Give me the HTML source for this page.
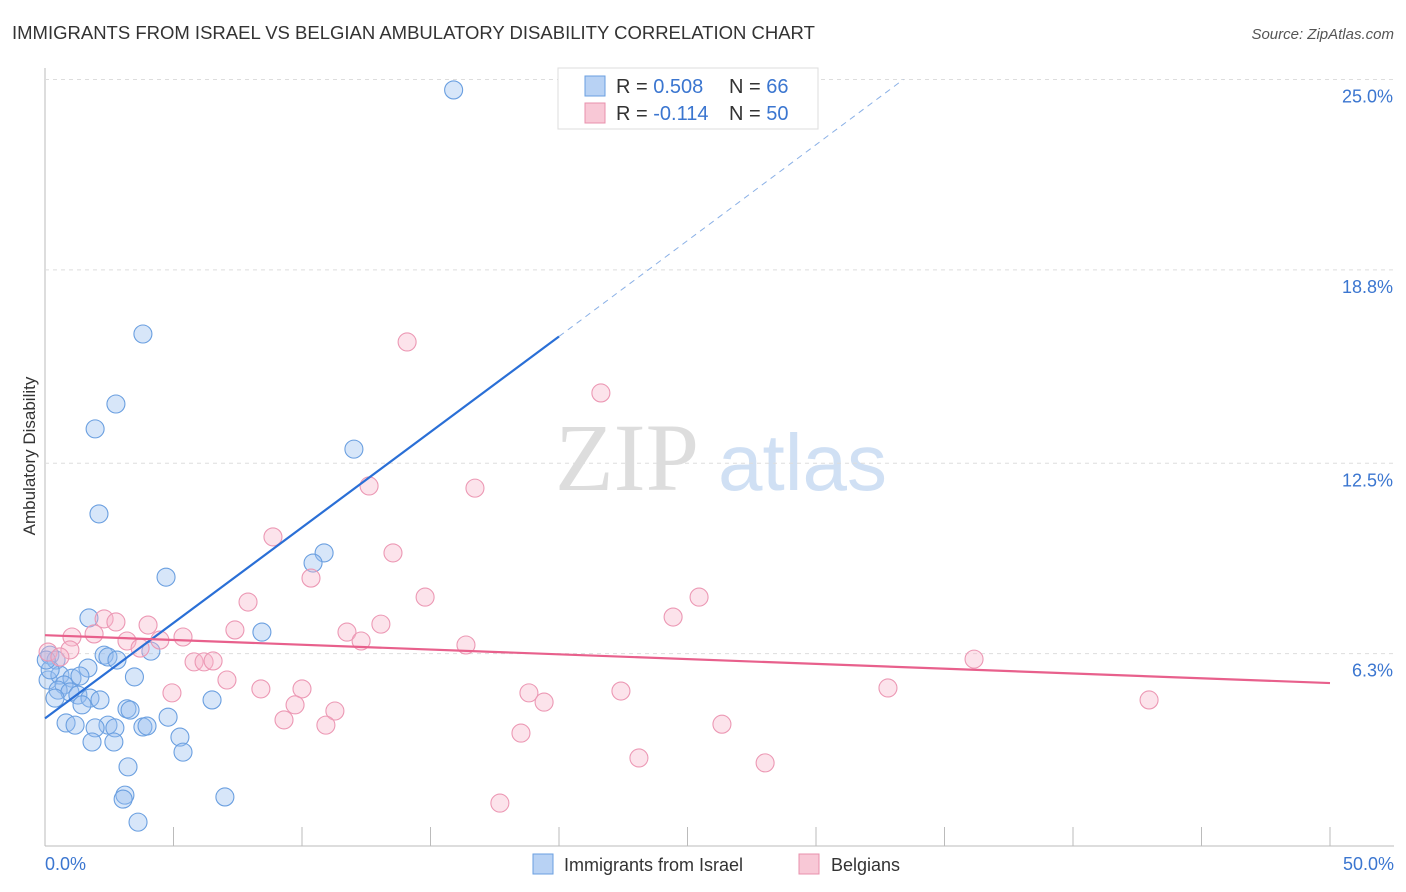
<!DOCTYPE html>
<html><head><meta charset="utf-8"><style>
body{margin:0;background:#fff;font-family:"Liberation Sans",sans-serif}
svg{display:block}
</style></head><body>
<svg width="1406" height="892" id="c">
<text x="12" y="39" font-size="18.5" fill="#333">IMMIGRANTS FROM ISRAEL VS BELGIAN AMBULATORY DISABILITY CORRELATION CHART</text>
<text x="1394" y="39" font-size="15" fill="#555" font-style="italic" text-anchor="end">Source: ZipAtlas.com</text>
<text x="35" y="456" font-size="17" fill="#333" text-anchor="middle" transform="rotate(-90 35 456)">Ambulatory Disability</text>
<text x="555" y="490" font-size="96" fill="#ddd" font-family="Liberation Serif">ZIP</text>
<text x="718" y="490" font-size="80" fill="#d0e0f4">atlas</text>
<g id="grid"></g><g id="pts"></g><g id="lines"></g>
<g>
<rect x="558" y="68" width="260" height="61" fill="#fff" stroke="#ddd"/>
<rect x="585" y="76" width="20" height="20" fill="#b8d2f4" stroke="#6a9fe0"/>
<rect x="585" y="103" width="20" height="20" fill="#f8c8d6" stroke="#e890ac"/>
<text x="616" y="93" font-size="20" fill="#333">R = <tspan fill="#3b76d0">0.508</tspan></text>
<text x="729" y="93" font-size="20" fill="#333">N = <tspan fill="#3b76d0">66</tspan></text>
<text x="616" y="120" font-size="20" fill="#333">R = <tspan fill="#3b76d0">-0.114</tspan></text>
<text x="729" y="120" font-size="20" fill="#333">N = <tspan fill="#3b76d0">50</tspan></text>
</g>
<g>
<rect x="533" y="854" width="20" height="20" fill="#b8d2f4" stroke="#6a9fe0"/>
<text x="564" y="871" font-size="18" fill="#333">Immigrants from Israel</text>
<rect x="799" y="854" width="20" height="20" fill="#f8c8d6" stroke="#e890ac"/>
<text x="831" y="871" font-size="18" fill="#333">Belgians</text>
</g>
</svg>
<script>
const yTicks=[25.0,18.8,12.5,6.3];
const yTickLabels=["25.0%","18.8%","12.5%","6.3%"];
const xTickLabels=["0.0%","50.0%"];
const israelX=[15.9,3.81,2.76,1.95,12.02,2.10,10.86,10.43,4.71,1.71,8.44,4.12,0.19,0.43,2.30,2.45,2.80,1.67,3.48,0.12,0.58,1.05,1.36,0.74,0.51,0.97,1.28,0.39,1.75,2.14,6.50,1.44,3.19,3.31,4.79,0.82,1.17,2.45,1.95,2.72,3.81,3.97,5.25,1.83,2.68,5.37,3.23,3.11,3.04,7.0,3.62,0.2,0.05];
const israelY=[24.66,16.71,14.43,13.62,12.96,10.85,9.58,9.25,8.79,7.46,7.0,6.38,6.25,6.09,6.25,6.19,6.09,5.83,5.54,5.44,5.6,5.5,5.57,5.28,5.11,5.05,4.95,4.85,4.85,4.79,4.79,4.63,4.50,4.46,4.23,4.04,3.97,3.97,3.88,3.88,3.91,3.94,3.58,3.42,3.42,3.09,2.61,1.69,1.56,1.63,0.81,5.77,6.09];
const belgX=[14.09,21.63,12.61,16.73,8.87,13.54,10.35,7.90,14.79,25.45,24.44,2.30,2.76,4.01,13.07,7.39,11.75,1.91,1.05,5.37,4.47,3.19,12.30,16.38,3.70,0.97,0.12,0.58,5.80,6.19,6.54,36.15,7.08,4.94,8.40,10.0,18.83,22.41,32.80,19.42,9.73,42.96,11.28,9.30,10.93,26.34,18.52,23.11,28.02,17.70];
const belgY=[16.45,14.79,11.76,11.69,10.10,9.58,8.76,7.98,8.14,8.14,7.49,7.43,7.33,7.23,7.26,7.07,7.0,6.94,6.84,6.84,6.74,6.71,6.71,6.58,6.48,6.42,6.35,6.19,6.03,6.03,6.06,6.12,5.44,5.02,5.15,5.15,5.02,5.08,5.18,4.72,4.63,4.79,4.43,4.14,3.97,4.0,3.71,2.90,2.74,1.43];
const israelTrend=[[0,4.19],[20,16.63],[33.4,25.0]];
const belgTrend=[[0,6.9],[50,5.34]];
const X=v=>45+v*25.7, Y=v=>847-v*30.7;
const NS="http://www.w3.org/2000/svg";
function mk(t,a,p){const e=document.createElementNS(NS,t);for(const k in a)e.setAttribute(k,a[k]);p.appendChild(e);return e;}
const g=document.getElementById('grid');
let ax=mk('line',{x1:45,y1:68,x2:45,y2:846,stroke:'#bbb'},g);

let bx=mk('line',{x1:45,y1:846,x2:1394,y2:846,stroke:'#bbb'},g);

yTicks.forEach((v,i)=>{
 const l=mk('line',{x1:45,x2:1394,y1:Y(v),y2:Y(v),stroke:'#ddd','stroke-dasharray':'4,4'},g);
 
 const t=mk('text',{x:1393,y:Y(v)+23,'font-size':18,fill:'#3b76d0','text-anchor':'end'},g);t.textContent=yTickLabels[i];
 
});
for(let i=1;i<=10;i++){const l=mk('line',{x1:X(i*5),x2:X(i*5),y1:827,y2:846,stroke:'#bbb'},g);
 }
[[0,'start',45],[1,'end',1394]].forEach(([i,a,x])=>{const t=mk('text',{x:x,y:870,'font-size':18,fill:'#3b76d0','text-anchor':a},g);t.textContent=xTickLabels[i];
 });
const p=document.getElementById('pts');
israelX.forEach((v,i)=>{const c=mk('circle',{cx:X(v),cy:Y(israelY[i]),r:9,fill:'rgba(150,188,238,0.38)',stroke:'#6a9fe0','stroke-width':1.1},p);
 });
belgX.forEach((v,i)=>{const c=mk('circle',{cx:X(v),cy:Y(belgY[i]),r:9,fill:'rgba(246,182,202,0.38)',stroke:'#ec98b4','stroke-width':1.1},p);
 });
const L=document.getElementById('lines');
let t1=mk('line',{x1:X(israelTrend[0][0]),y1:Y(israelTrend[0][1]),x2:X(israelTrend[1][0]),y2:Y(israelTrend[1][1]),stroke:'#2a6fd6','stroke-width':2.2},L);

let t2=mk('line',{x1:X(israelTrend[1][0]),y1:Y(israelTrend[1][1]),x2:X(israelTrend[2][0]),y2:Y(israelTrend[2][1]),stroke:'#8ab0e6','stroke-width':1,'stroke-dasharray':'6,5'},L);

let t3=mk('line',{x1:X(belgTrend[0][0]),y1:Y(belgTrend[0][1]),x2:X(belgTrend[1][0]),y2:Y(belgTrend[1][1]),stroke:'#e8608c','stroke-width':2.2},L);

</script>
</body></html>
